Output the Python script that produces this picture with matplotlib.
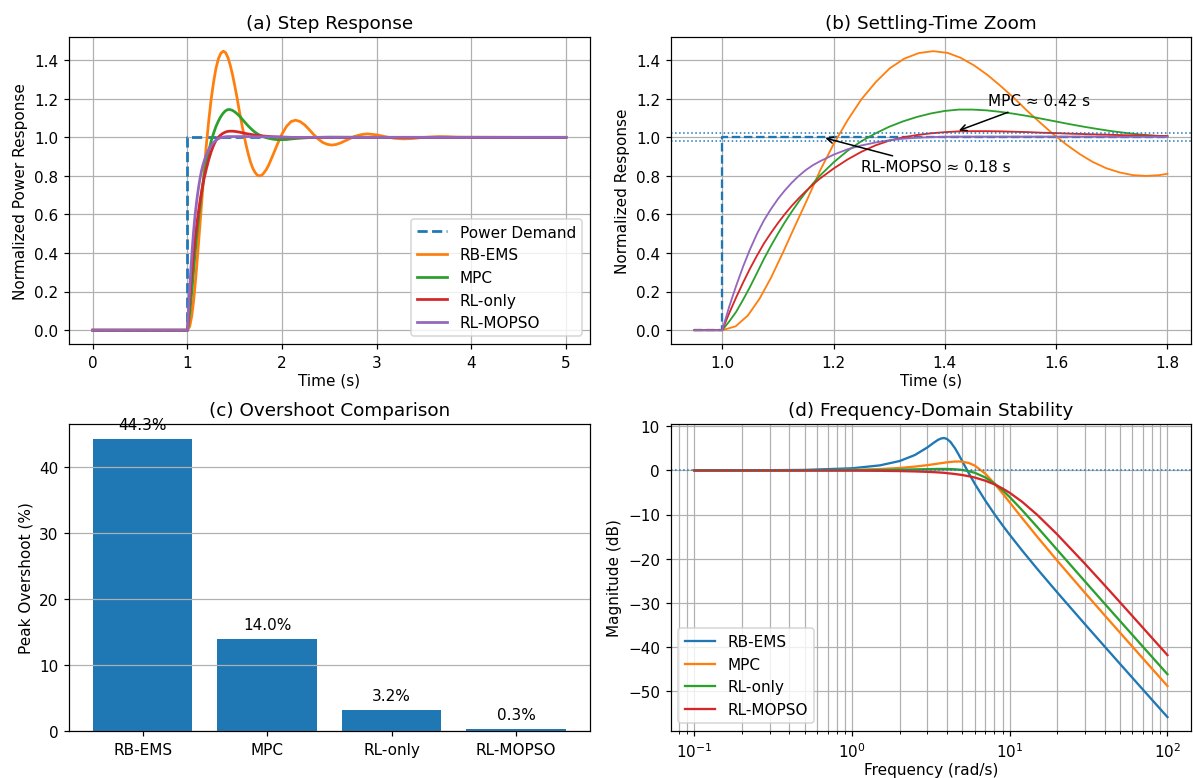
import numpy as np
import matplotlib
matplotlib.use("Agg")
import matplotlib.pyplot as plt

# ---- step responses ----
T_DEMAND = [0.0, 0.95, 1.0, 1.0, 1.8, 5.0]
Y_DEMAND = [0.0, 0.0, 0.0, 1.0, 1.0, 1.0]

T_RB = [0.0, 0.95,
        1.000, 1.024, 1.046, 1.067, 1.088, 1.109, 1.131, 1.154, 1.176, 1.200,
        1.225, 1.250, 1.276, 1.301, 1.327, 1.353, 1.379, 1.405, 1.428, 1.452,
        1.476, 1.500, 1.524, 1.547, 1.571, 1.595, 1.619, 1.643, 1.666, 1.690,
        1.714, 1.738, 1.762, 1.785,
        1.800, 1.833, 1.857,
        1.904, 1.952, 2.000, 2.047, 2.095, 2.142, 2.190, 2.238, 2.285, 2.333,
        2.380, 2.428, 2.476, 2.523, 2.571, 2.618, 2.666, 2.714, 2.761, 2.809,
        2.856, 2.904,
        2.999, 3.094, 3.190, 3.285, 3.380, 3.475, 3.570, 3.666, 3.761, 3.856,
        4.5, 5.0]
Y_RB = [0.0, 0.0,
        0.000, 0.020, 0.076, 0.163, 0.274, 0.402, 0.542, 0.686, 0.829, 0.964,
        1.088, 1.197, 1.287, 1.358, 1.408, 1.437, 1.447, 1.438, 1.413, 1.374,
        1.325, 1.267, 1.205, 1.140, 1.077, 1.016, 0.961, 0.912, 0.872, 0.840,
        0.818, 0.804, 0.800, 0.804,
        0.811, 0.833, 0.855,
        0.909, 0.966, 1.018, 1.057, 1.082, 1.089, 1.082, 1.065, 1.041, 1.015,
        0.992, 0.974, 0.964, 0.960, 0.963, 0.971, 0.982, 0.993, 1.004, 1.011,
        1.016, 1.018,
        1.013, 1.003, 0.995, 0.992, 0.994, 0.999, 1.002, 1.004, 1.003, 1.001,
        1.000, 1.000]

T_CTRL = [0.0, 0.95,
          1.000, 1.0125, 1.025, 1.0375, 1.050, 1.0625, 1.075, 1.0875, 1.100,
          1.1125, 1.125, 1.1375, 1.150, 1.1625, 1.175, 1.200, 1.225,
          1.250, 1.275, 1.300, 1.325, 1.350, 1.375, 1.400, 1.425, 1.450, 1.475,
          1.500, 1.525, 1.550, 1.575, 1.600, 1.625, 1.650, 1.675, 1.700, 1.725,
          1.750, 1.775, 1.800,
          1.85, 1.90, 1.95, 2.00, 2.05, 2.10, 2.15, 2.20, 2.30, 2.40, 2.50,
          3.0, 4.0, 5.0]
Y_MPC = [0.0, 0.0,
         0.000, 0.045, 0.095, 0.158, 0.225, 0.297, 0.370, 0.437, 0.500,
         0.560, 0.615, 0.667, 0.715, 0.759, 0.800, 0.870, 0.930,
         0.980, 1.020, 1.055, 1.083, 1.106, 1.124, 1.137, 1.144, 1.144, 1.140,
         1.132, 1.122, 1.110, 1.096, 1.082, 1.068, 1.055, 1.043, 1.032, 1.023,
         1.015, 1.009, 1.004,
         0.996, 0.991, 0.988, 0.988, 0.989, 0.992, 0.994, 0.996, 0.999, 1.000, 1.001,
         1.000, 1.000, 1.000]
Y_RL = [0.0, 0.0,
        0.000, 0.088, 0.170, 0.247, 0.320, 0.387, 0.450, 0.504, 0.555,
        0.602, 0.645, 0.684, 0.720, 0.754, 0.785, 0.838, 0.885,
        0.925, 0.958, 0.983, 1.000, 1.012, 1.021, 1.027, 1.031, 1.032, 1.032,
        1.031, 1.029, 1.027, 1.024, 1.022, 1.019, 1.017, 1.015, 1.013, 1.011,
        1.010, 1.008, 1.007,
        1.005, 1.003, 1.002, 1.001, 1.000, 0.999, 0.999, 0.999, 1.000, 1.000, 1.000,
        1.000, 1.000, 1.000]
Y_MOPSO = [0.0, 0.0,
           0.000, 0.122, 0.230, 0.330, 0.420, 0.500, 0.570, 0.628, 0.680,
           0.725, 0.765, 0.800, 0.830, 0.855, 0.875, 0.910, 0.938,
           0.958, 0.973, 0.985, 0.993, 0.998, 1.001, 1.003, 1.004, 1.004, 1.004,
           1.004, 1.004, 1.004, 1.004, 1.004, 1.004, 1.004, 1.004, 1.003, 1.003,
           1.003, 1.003, 1.003,
           1.003, 1.002, 1.002, 1.001, 1.001, 1.000, 1.000, 1.000, 1.000, 1.000, 1.000,
           1.000, 1.000, 1.000]

# ---- overshoot bars ----
METHODS = ["RB-EMS", "MPC", "RL-only", "RL-MOPSO"]
OVERSHOOT = [44.3, 14.0, 3.2, 0.3]

# ---- bode magnitude (dB) ----
FREQ = [0.1, 0.2, 0.5, 1, 1.5, 2, 2.5, 3, 3.3, 3.5, 3.65, 3.8, 3.9, 4, 4.2, 4.5,
        4.75, 5, 5.5, 6, 7, 8, 9, 10, 12, 15, 20, 30, 40, 50, 70, 100]
MAG_RB = [0.00, 0.02, 0.13, 0.50, 1.16, 2.14, 3.50, 5.22, 6.31, 6.92, 7.23, 7.35,
          7.29, 7.13, 6.50, 5.01, 3.55, 2.08, -0.64, -3.01, -6.85, -9.90, -12.43,
          -14.59, -18.18, -22.39, -27.64, -34.86, -39.92, -43.83, -49.70, -55.90]
MAG_MPC = [0.00, 0.00, 0.04, 0.15, 0.33, 0.57, 0.88, 1.21, 1.42, 1.56, 1.65, 1.74,
           1.80, 1.85, 1.94, 2.03, 2.04, 2.00, 1.70, 1.11, -0.74, -2.97, -5.19,
           -7.25, -10.83, -15.11, -20.45, -27.75, -32.84, -36.76, -42.64, -48.85]
MAG_RL = [0.00, 0.00, 0.01, 0.05, 0.10, 0.17, 0.25, 0.31, 0.33, 0.35, 0.35, 0.35,
          0.35, 0.34, 0.32, 0.27, 0.20, 0.11, -0.17, -0.52, -1.58, -2.95, -4.48,
          -6.04, -9.03, -12.90, -18.00, -25.16, -30.21, -34.11, -39.98, -46.18]
MAG_MOPSO = [0.00, 0.00, -0.01, -0.03, -0.07, -0.13, -0.21, -0.31, -0.38, -0.43,
             -0.47, -0.52, -0.55, -0.61, -0.68, -0.80, -0.92, -1.03, -1.30, -1.60,
             -2.32, -3.15, -4.08, -5.07, -7.12, -10.12, -14.49, -21.16, -26.04,
             -29.87, -35.68, -41.85]


def window(t, y, lo=0.95, hi=1.8):
    t = np.asarray(t)
    y = np.asarray(y)
    keep = (t >= lo) & (t <= hi + 1e-9)
    return t[keep], y[keep]


step_series = [
    (T_RB, Y_RB, "RB-EMS", "C1"),
    (T_CTRL, Y_MPC, "MPC", "C2"),
    (T_CTRL, Y_RL, "RL-only", "C3"),
    (T_CTRL, Y_MOPSO, "RL-MOPSO", "C4"),
]

fig, axes = plt.subplots(2, 2, figsize=(10.85, 7.08), dpi=110)
fig.subplots_adjust(left=0.058, right=0.998, top=0.9512, bottom=0.0603,
                    wspace=0.156, hspace=0.2606)

# (a) step response
ax = axes[0, 0]
ax.plot(T_DEMAND, Y_DEMAND, "--", color="C0", lw=1.8, label="Power Demand")
for t, y, name, col in step_series:
    ax.plot(t, y, color=col, lw=1.8, label=name)
ax.set_title("(a) Step Response")
ax.set_xlabel("Time (s)", labelpad=2)
ax.set_ylabel("Normalized Power Response")
ax.grid(True)
ax.legend(loc="lower right")

# (b) settling-time zoom
ax = axes[0, 1]
td, yd = window(T_DEMAND, Y_DEMAND)
ax.plot(td, yd, "--", color="C0", lw=1.5)
for t, y, name, col in step_series:
    tw, yw = window(t, y)
    ax.plot(tw, yw, color=col, lw=1.2)
ax.axhline(1.02, color="C0", ls=":", lw=1)
ax.axhline(0.98, color="C0", ls=":", lw=1)
ax.annotate("MPC \u2248 0.42 s", xy=(1.42, 1.03), xytext=(1.478, 1.167),
            arrowprops=dict(arrowstyle="->", color="black"))
ax.annotate("RL-MOPSO \u2248 0.18 s", xy=(1.18, 1.0), xytext=(1.249, 0.822),
            arrowprops=dict(arrowstyle="->", color="black"))
ax.set_xticks([1.0, 1.2, 1.4, 1.6, 1.8])
ax.set_title("(b) Settling-Time Zoom")
ax.set_xlabel("Time (s)", labelpad=2)
ax.set_ylabel("Normalized Response")
ax.grid(True)

# (c) overshoot bars
ax = axes[1, 0]
x = np.arange(len(METHODS))
ax.bar(x, OVERSHOOT, color="C0")
for i, v in enumerate(OVERSHOOT):
    ax.text(x[i], v + 1.0, f"{v:.1f}%", ha="center", va="bottom")
ax.set_xticks(x)
ax.set_xticklabels(METHODS)
ax.set_title("(c) Overshoot Comparison")
ax.set_ylabel("Peak Overshoot (%)")
ax.grid(True, axis="y")

# (d) bode magnitude
ax = axes[1, 1]
for mag, name, col in [(MAG_RB, "RB-EMS", "C0"), (MAG_MPC, "MPC", "C1"),
                       (MAG_RL, "RL-only", "C2"), (MAG_MOPSO, "RL-MOPSO", "C3")]:
    ax.semilogx(FREQ, mag, color=col, lw=1.5, label=name)
ax.axhline(0, color="C0", ls=":", lw=1)
ax.set_title("(d) Frequency-Domain Stability")
ax.set_xlabel("Frequency (rad/s)", labelpad=1)
ax.set_ylabel("Magnitude (dB)")
ax.grid(True, which="both")
ax.legend(loc="lower left")

fig.savefig("out.png", dpi=110)
